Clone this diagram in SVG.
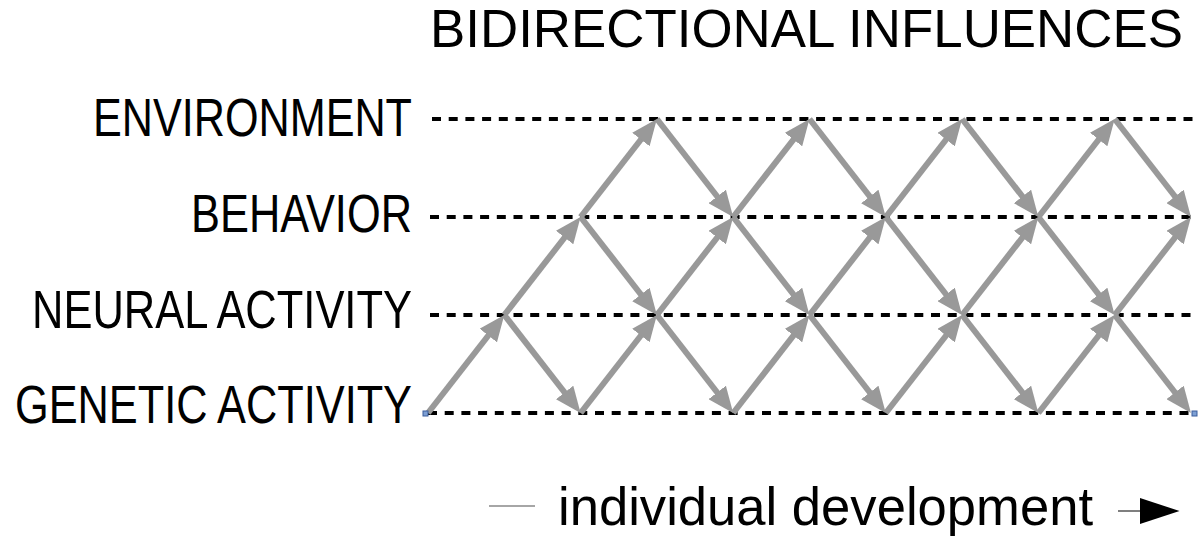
<svg xmlns="http://www.w3.org/2000/svg" width="1203" height="542" viewBox="0 0 1203 542">
<style>
.lbl{font-family:"Liberation Sans",Arial,sans-serif;font-size:53px;fill:#000}
.lane{stroke:#000;stroke-width:4;stroke-dasharray:9 7.7;fill:none}
.inf{stroke:#999;stroke-width:6;fill:none;marker-end:url(#ah)}
.handle{fill:#7d9fd3;stroke:#3b5c9c;stroke-width:1}
</style>
<defs>
<marker id="ah" markerUnits="userSpaceOnUse" markerWidth="26" markerHeight="22" viewBox="0 0 26 22" refX="14" refY="11" orient="auto">
<path d="M0,0 L26,11 L0,22 z" fill="#999"/>
</marker>
<marker id="blk" markerUnits="userSpaceOnUse" markerWidth="40" markerHeight="26" viewBox="0 0 38 25" refX="0" refY="12.5" orient="auto">
<path d="M0,0 L38,12.5 L0,25 z" fill="#000"/>
</marker>
</defs>

<g id="title">
<text class="lbl" x="430" y="47" font-size="51" textLength="753" lengthAdjust="spacingAndGlyphs">BIDIRECTIONAL INFLUENCES</text>
</g>

<g id="node-environment">
<text class="lbl" x="412" y="136" text-anchor="end" textLength="319" lengthAdjust="spacingAndGlyphs">ENVIRONMENT</text>
</g>
<g id="node-behavior">
<text class="lbl" x="412" y="232" text-anchor="end" textLength="221" lengthAdjust="spacingAndGlyphs">BEHAVIOR</text>
</g>
<g id="node-neural">
<text class="lbl" x="412" y="328" text-anchor="end" textLength="380" lengthAdjust="spacingAndGlyphs">NEURAL ACTIVITY</text>
</g>
<g id="node-genetic">
<text class="lbl" x="412" y="423" text-anchor="end" textLength="397" lengthAdjust="spacingAndGlyphs">GENETIC ACTIVITY</text>
</g>

<g id="lanes">
<line class="lane" x1="432" y1="119" x2="1198" y2="119"/>
<line class="lane" x1="430" y1="217" x2="1197" y2="217"/>
<line class="lane" x1="430" y1="315" x2="1193" y2="315"/>
<line class="lane" x1="428" y1="413" x2="1193" y2="413"/>
</g>

<g id="connectors">
<line class="inf" x1="428" y1="413" x2="496.9" y2="324.5"/>
<line class="inf" x1="504.3" y1="315" x2="573.2" y2="226.5"/>
<line class="inf" x1="504.3" y1="315" x2="573.2" y2="403.5"/>
<line class="inf" x1="580.6" y1="413" x2="649.5" y2="324.5"/>
<line class="inf" x1="580.6" y1="217" x2="649.5" y2="128.5"/>
<line class="inf" x1="580.6" y1="217" x2="649.5" y2="305.5"/>
<line class="inf" x1="656.9" y1="315" x2="725.8" y2="226.5"/>
<line class="inf" x1="656.9" y1="315" x2="725.8" y2="403.5"/>
<line class="inf" x1="656.9" y1="119" x2="725.8" y2="207.5"/>
<line class="inf" x1="733.2" y1="413" x2="802.1" y2="324.5"/>
<line class="inf" x1="733.2" y1="217" x2="802.1" y2="128.5"/>
<line class="inf" x1="733.2" y1="217" x2="802.1" y2="305.5"/>
<line class="inf" x1="809.5" y1="315" x2="878.4" y2="226.5"/>
<line class="inf" x1="809.5" y1="315" x2="878.4" y2="403.5"/>
<line class="inf" x1="809.5" y1="119" x2="878.4" y2="207.5"/>
<line class="inf" x1="885.8" y1="413" x2="954.7" y2="324.5"/>
<line class="inf" x1="885.8" y1="217" x2="954.7" y2="128.5"/>
<line class="inf" x1="885.8" y1="217" x2="954.7" y2="305.5"/>
<line class="inf" x1="962.1" y1="315" x2="1031" y2="226.5"/>
<line class="inf" x1="962.1" y1="315" x2="1031" y2="403.5"/>
<line class="inf" x1="962.1" y1="119" x2="1031" y2="207.5"/>
<line class="inf" x1="1038.4" y1="413" x2="1107.3" y2="324.5"/>
<line class="inf" x1="1038.4" y1="217" x2="1107.3" y2="128.5"/>
<line class="inf" x1="1038.4" y1="217" x2="1107.3" y2="305.5"/>
<line class="inf" x1="1114.7" y1="315" x2="1183.6" y2="226.5"/>
<line class="inf" x1="1114.7" y1="315" x2="1183.6" y2="403.5"/>
<line class="inf" x1="1114.7" y1="119" x2="1183.6" y2="207.5"/>
</g>

<g id="handles">
<rect class="handle" x="423" y="411" width="5" height="5"/>
<rect class="handle" x="1192" y="411" width="5" height="5"/>
</g>

<g id="timeline">
<line x1="489" y1="506" x2="535" y2="506" stroke="#888" stroke-width="1.5"/>
<text class="lbl" x="558" y="525" font-size="52" textLength="535" lengthAdjust="spacingAndGlyphs">individual development</text>
<line x1="1118" y1="511" x2="1140" y2="511" stroke="#555" stroke-width="1.5" marker-end="url(#blk)"/>
</g>
</svg>
